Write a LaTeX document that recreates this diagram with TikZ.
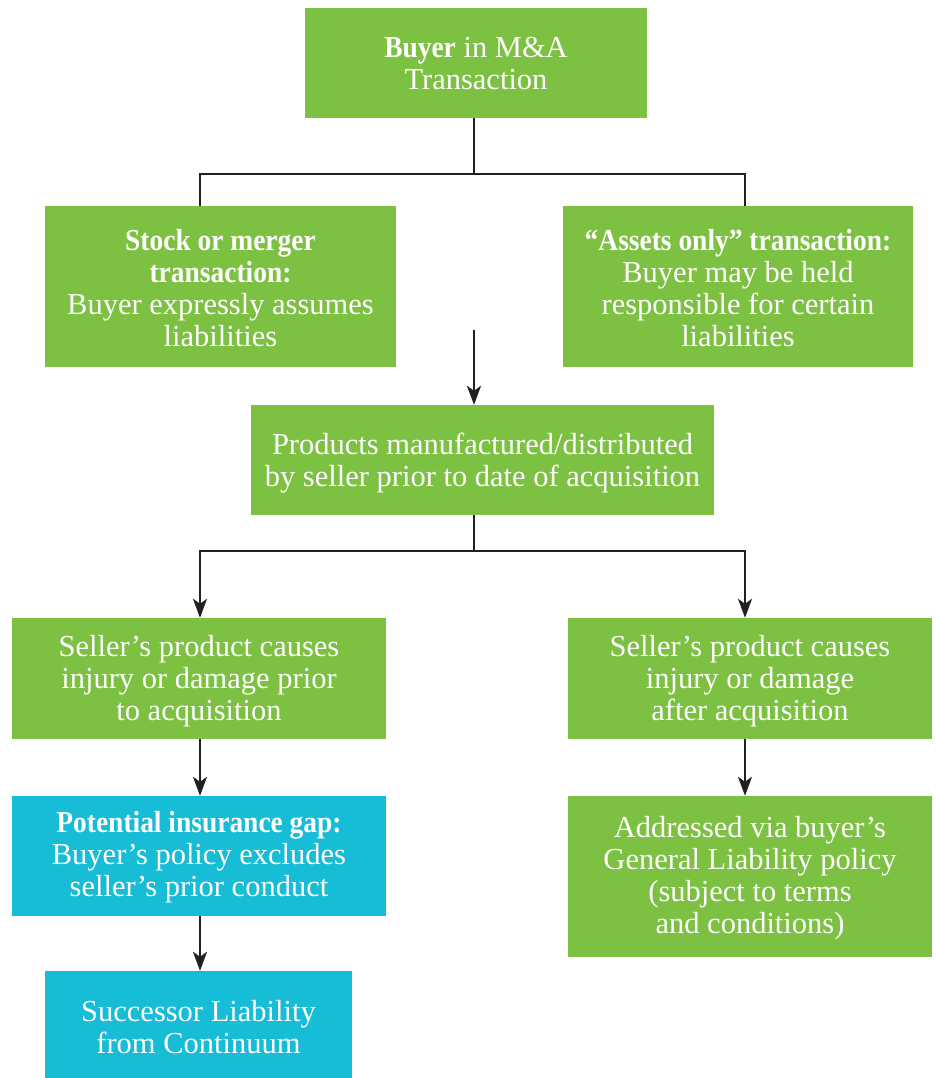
\documentclass[tikz,border=0pt]{standalone}
\usepackage{fontspec}
\setmainfont{Liberation Serif}[BoldFeatures={FakeStretch=0.9}]
\usetikzlibrary{arrows.meta}
\definecolor{grn}{HTML}{7DC142}
\definecolor{cyn}{HTML}{17BCD6}
\definecolor{lnc}{HTML}{231F20}
\tikzset{
  box/.style={rectangle, fill=grn, inner sep=0pt},
  bbox/.style={box, fill=cyn},
  txt/.style={text=white, align=center, inner sep=0pt,
    font=\fontsize{30.5}{32}\selectfont},
  conn/.style={draw=lnc, line width=2.3pt},
  arr/.style={conn, -{Stealth[length=19pt,width=14pt,inset=5pt]}}
}
\begin{document}
\begin{tikzpicture}[x=1pt,y=-1pt]
\useasboundingbox (0,0) rectangle (935,1078);
% boxes
\node[box, minimum width=342pt, minimum height=110pt] (top) at (476,63) {};
\node[box, minimum width=351pt, minimum height=161pt] (L2) at (220.5,286.5) {};
\node[box, minimum width=350pt, minimum height=161pt] (R2) at (738,286.5) {};
\node[box, minimum width=463pt, minimum height=110pt] (mid) at (482.5,460) {};
\node[box, minimum width=374pt, minimum height=121pt] (L3) at (199,678.5) {};
\node[box, minimum width=364pt, minimum height=121pt] (R3) at (750,678.5) {};
\node[bbox, minimum width=374pt, minimum height=120pt] (B1) at (199,856) {};
\node[bbox, minimum width=307pt, minimum height=107pt] (B2) at (198.5,1024.5) {};
\node[box, minimum width=364pt, minimum height=161pt] (R4) at (750,876.5) {};
% texts
\node[txt] (topt) at ([yshift=-1pt]top.center) {\textbf{Buyer} in M\&A\\Transaction};
\node[txt] (L2t) at ([yshift=-2pt]L2.center)
  {\textbf{Stock or merger}\\\textbf{transaction:}\\Buyer expressly assumes\\liabilities};
\node[txt] (R2t) at ([yshift=-2pt]R2.center)
  {\textbf{“Assets only” transaction:}\\Buyer may be held\\responsible for certain\\liabilities};
\node[txt] (midt) at ([yshift=-3pt]mid.center)
  {Products manufactured/distributed\\by seller prior to date of acquisition};
\node[txt] (L3t) at ([yshift=-3pt]L3.center)
  {Seller’s product causes\\injury or damage prior\\to acquisition};
\node[txt] (R3t) at ([yshift=-3pt]R3.center)
  {Seller’s product causes\\injury or damage\\after acquisition};
\node[txt] (B1t) at ([yshift=-1pt]B1.center)
  {\textbf{Potential insurance gap:}\\Buyer’s policy excludes\\seller’s prior conduct};
\node[txt] (B2t) at ([yshift=-3pt]B2.center) {Successor Liability\\from Continuum};
\node[txt] (R4t) at ([yshift=-2pt]R4.center)
  {Addressed via buyer’s\\General Liability policy\\(subject to terms\\and conditions)};
% connectors
\coordinate (j1) at (474,174);
\coordinate (j2) at (474,551);
\coordinate (a0) at (474,330);
\draw[conn] (top.south -| j1) -- (j1);
\draw[conn] (j1) -| ([xshift=-20.5pt]L2.north);
\draw[conn] (j1) -| ([xshift=7pt]R2.north);
\draw[arr] (a0) -- (mid.north -| a0);
\draw[conn] (mid.south -| j2) -- (j2);
\draw[arr] (j2) -| ([xshift=1pt]L3.north);
\draw[arr] (j2) -| ([xshift=-5pt]R3.north);
\draw[arr] ([xshift=1pt]L3.south) -- ([xshift=1pt]B1.north);
\draw[arr] ([xshift=1pt]B1.south) -- ([xshift=1.5pt]B2.north);
\draw[arr] ([xshift=-5pt]R3.south) -- ([xshift=-5pt]R4.north);
\end{tikzpicture}
\end{document}
